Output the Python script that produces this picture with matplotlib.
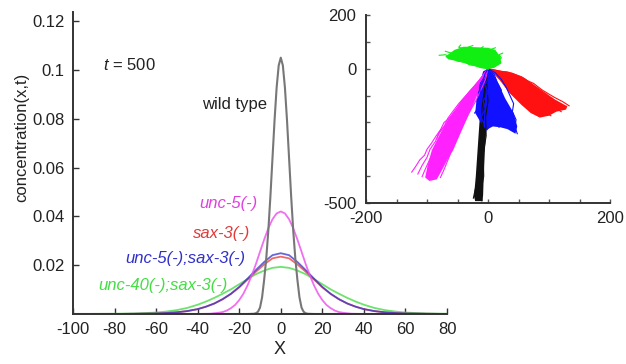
import matplotlib
matplotlib.use("Agg")
import matplotlib.pyplot as plt

plt.rcParams['font.family'] = ['Liberation Sans', 'DejaVu Sans']
plt.rcParams['mathtext.fontset'] = 'custom'
plt.rcParams['mathtext.it'] = 'Liberation Sans:italic'
plt.rcParams['mathtext.rm'] = 'Liberation Sans'

# ---------------- main panel data ----------------
x_ticks = [-100, -80, -60, -40, -20, 0, 20, 40, 60, 80]
y_ticks = [0.02, 0.04, 0.06, 0.08, 0.1, 0.12]
y_ticklabels = ['0.02', '0.04', '0.06', '0.08', '0.1', '0.12']

wt_x = [-100, -16, -13, -12, -11, -10, -9, -8, -7, -6, -5, -4, -3, -2, -1, 0,
        1, 2, 3, 4, 5, 6, 7, 8, 9, 10, 11, 12, 13, 16, 80]
wt_y = [0, 0, 0.0001, 0.0003, 0.0009, 0.0026, 0.0068, 0.0140, 0.0227, 0.0341,
        0.0481, 0.0637, 0.0793, 0.0927, 0.1018, 0.1050, 0.1018, 0.0927, 0.0793,
        0.0637, 0.0481, 0.0341, 0.0227, 0.0140, 0.0068, 0.0026, 0.0009, 0.0003,
        0.0001, 0, 0]

mag_x = [-100, -40, -34, -30, -28, -26, -24, -22, -20, -18, -16, -14, -12, -10,
         -8, -6, -4, -2, 0, 2, 4, 6, 8, 10, 12, 14, 16, 18, 20, 22, 24, 26, 28,
         30, 34, 40, 80]
mag_y = [0, 0, 0.0001, 0.0005, 0.0008, 0.0014, 0.0024, 0.0037, 0.0057, 0.0083,
         0.0117, 0.0158, 0.0204, 0.0255, 0.0305, 0.0351, 0.0388, 0.0412, 0.0420,
         0.0412, 0.0388, 0.0351, 0.0305, 0.0255, 0.0204, 0.0158, 0.0117, 0.0083,
         0.0057, 0.0037, 0.0024, 0.0014, 0.0008, 0.0005, 0.0001, 0, 0]

wide_x = [-100, -80, -70, -60, -55, -50, -45, -40, -36, -32, -28, -24, -20, -16,
          -12, -8, -4, 0, 4, 8, 12, 16, 20, 24, 28, 32, 36, 40, 45, 50, 55, 60,
          70, 80]
blue_y = [0, 0, 0.0001, 0.0002, 0.0004, 0.0007, 0.0012, 0.0020, 0.0030, 0.0043,
          0.0061, 0.0083, 0.0111, 0.0145, 0.0180, 0.0213, 0.0241, 0.0249, 0.0241,
          0.0213, 0.0180, 0.0145, 0.0111, 0.0083, 0.0061, 0.0043, 0.0030, 0.0020,
          0.0012, 0.0007, 0.0004, 0.0002, 0.0001, 0]
red_y = [0, 0, 0.0001, 0.0002, 0.0004, 0.0007, 0.0012, 0.0020, 0.0030, 0.0043,
         0.0060, 0.0082, 0.0109, 0.0141, 0.0173, 0.0203, 0.0228, 0.0235, 0.0228,
         0.0203, 0.0173, 0.0141, 0.0109, 0.0082, 0.0060, 0.0043, 0.0030, 0.0020,
         0.0012, 0.0007, 0.0004, 0.0002, 0.0001, 0]
green_y = [0, 0.0001, 0.0002, 0.0006, 0.0010, 0.0016, 0.0025, 0.0038, 0.0051,
           0.0066, 0.0083, 0.0101, 0.0122, 0.0143, 0.0163, 0.0178, 0.0189, 0.0193,
           0.0189, 0.0178, 0.0163, 0.0143, 0.0122, 0.0101, 0.0083, 0.0066, 0.0051,
           0.0038, 0.0025, 0.0016, 0.0010, 0.0006, 0.0002, 0.0001]

labels = ['wild type', 'unc-5(-)', 'sax-3(-)', 'unc-5(-);sax-3(-)', 'unc-40(-);sax-3(-)']

# ---------------- inset (trajectories) data ----------------
inset_xticks = [-200, -150, -100, -50, 0, 50, 100, 150, 200]
inset_xticklabels = ['-200', '', '', '', '0', '', '', '', '200']
inset_yticks = [-500, -400, -300, -200, -100, 0, 100, 200]
inset_yticklabels = ['-500', '', '', '', '', '0', '', '200']

black_core = [(-3, 0), (0, -60), (0, -120), (-2, -200), (-5, -300), (-7, -400),
              (-8, -470), (-9, -493), (-21, -493), (-23, -475), (-20, -400),
              (-17, -300), (-14, -200), (-11, -120), (-7, -50)]
black_lines = [
    [(0, 0), (-2, -60), (0, -120), (-4, -180), (-3, -250), (-8, -320), (-7, -400), (-12, -460), (-10, -492)],
    [(0, 0), (-4, -60), (-6, -120), (-8, -200), (-12, -280), (-14, -350), (-16, -420), (-20, -490)],
    [(0, 0), (-6, -80), (-10, -150), (-9, -230), (-15, -300), (-13, -380), (-21, -450), (-24, -482)],
]

mag_core = [(-3, -10), (-15, -42), (-30, -80), (-43, -116), (-62, -179), (-78, -240),
            (-92, -303), (-99, -360), (-103, -405), (-96, -418), (-84, -412),
            (-76, -380), (-68, -345), (-57, -303), (-45, -240), (-33, -179),
            (-21, -116), (-12, -70), (-6, -35)]
mag_lines = [
    [(0, 0), (-8, -25), (-15, -50), (-24, -78), (-35, -110), (-44, -135), (-55, -160), (-62, -182), (-72, -200),
     (-78, -228), (-85, -250), (-92, -275), (-100, -300), (-104, -322), (-112, -340), (-118, -362), (-125, -385)],
    [(0, 0), (-10, -30), (-20, -60), (-30, -88), (-42, -120), (-50, -148), (-62, -180), (-70, -210), (-80, -240),
     (-86, -270), (-95, -300), (-100, -330), (-108, -360), (-112, -378), (-115, -392)],
    [(0, 0), (-12, -36), (-24, -70), (-36, -100), (-48, -130), (-58, -160), (-66, -185), (-72, -215),
     (-80, -235), (-84, -260)],
    [(0, 0), (-6, -35), (-14, -70), (-22, -105), (-30, -140), (-38, -175), (-48, -210), (-56, -250),
     (-66, -290), (-74, -330), (-82, -365), (-90, -395), (-98, -410)],
    [(0, 0), (-12, -45), (-25, -85), (-40, -130), (-52, -170), (-65, -210), (-75, -255), (-88, -300),
     (-96, -340), (-104, -380), (-108, -402)],
    [(0, 0), (-4, -40), (-12, -80), (-20, -120), (-30, -160), (-40, -200), (-50, -245), (-58, -290),
     (-64, -330), (-72, -375), (-78, -405)],
]

red_core = [(0, 0), (15, -5), (40, -15), (60, -35), (85, -75), (110, -115), (130, -140),
            (128, -152), (112, -160), (100, -175), (85, -182), (70, -165), (55, -135),
            (35, -90), (20, -45), (5, -8)]
red_lines = [
    [(0, 0), (10, -4), (22, -10), (32, -12), (45, -22), (55, -30), (65, -45), (75, -55), (88, -78), (98, -92),
     (110, -108), (122, -122), (133, -138)],
    [(0, 0), (6, -12), (15, -25), (22, -42), (30, -55), (38, -75), (46, -92), (52, -110), (60, -125), (68, -145),
     (76, -158), (84, -178)],
    [(0, 0), (12, -10), (25, -22), (35, -38), (48, -50), (58, -68), (70, -85), (80, -100), (92, -118), (100, -135),
     (112, -148), (120, -160)],
    [(0, 0), (8, -8), (20, -18), (30, -30), (42, -45), (52, -62), (62, -80), (75, -92), (85, -112), (95, -128),
     (108, -142), (125, -150)],
    [(0, 0), (10, -15), (18, -32), (28, -48), (38, -62), (45, -82), (55, -98), (65, -118), (72, -135), (85, -148),
     (95, -165), (103, -175)],
]

blue_core = [(0, 0), (-8, -10), (-14, -60), (-19, -120), (-21, -165), (-12, -200), (-3, -228),
             (8, -215), (20, -218), (32, -225), (45, -242), (48, -215), (42, -165),
             (28, -110), (18, -60), (8, -15)]
blue_lines = [
    [(0, 0), (-5, -20), (-8, -45), (-14, -70), (-12, -95), (-18, -120), (-15, -145), (-22, -165)],
    [(0, 0), (5, -25), (2, -55), (8, -85), (4, -115), (10, -150), (2, -180), (6, -205), (-2, -228)],
    [(0, 0), (10, -20), (15, -50), (22, -80), (18, -110), (28, -140), (24, -170), (30, -200), (36, -225)],
    [(0, 0), (12, -15), (22, -40), (30, -70), (36, -100), (42, -130), (40, -160), (46, -190), (44, -215),
     (48, -242)],
    [(0, 0), (2, -30), (-5, -60), (0, -90), (-8, -120), (-4, -150), (-12, -180), (-6, -205)],
    [(0, 0), (8, -30), (14, -60), (10, -95), (18, -125), (14, -160), (22, -190), (18, -218)],
]

green_core = [(-70, 45), (-55, 70), (-40, 82), (-20, 80), (0, 78), (12, 70), (20, 45),
              (22, 20), (10, 3), (0, 0), (-12, 2), (-30, 15), (-50, 28), (-65, 35)]
green_lines = [
    [(0, 0), (-6, 8), (-12, 6), (-20, 15), (-28, 20), (-35, 30), (-45, 35), (-52, 42), (-62, 45), (-70, 52),
     (-80, 50)],
    [(0, 0), (-3, 12), (-10, 22), (-8, 35), (-18, 48), (-25, 55), (-35, 62), (-40, 75), (-48, 80), (-45, 88)],
    [(0, 0), (4, 10), (2, 22), (8, 35), (4, 48), (10, 60), (5, 72), (12, 78)],
    [(0, 0), (8, 6), (14, 15), (20, 22), (16, 32), (22, 40), (18, 52), (24, 58)],
    [(0, 0), (-10, 4), (-18, 12), (-30, 14), (-38, 25), (-50, 28), (-58, 38), (-66, 46), (-60, 58), (-70, 65)],
    [(0, 0), (-5, 15), (-15, 28), (-22, 42), (-30, 52), (-28, 68), (-36, 78), (-25, 86)],
    [(0, 0), (-8, 18), (-2, 30), (-12, 45), (-5, 60), (-15, 70), (-8, 82)],
]

# ---------------- figure ----------------
fig = plt.figure(figsize=(6.26, 3.64), dpi=100)
ax = fig.add_axes([73 / 626, 50 / 364, 374 / 626, 302 / 364])

ax.plot(wide_x, green_y, color='#55dd55', lw=1.3, alpha=0.85)
ax.plot(wide_x, red_y, color='#ee4444', lw=1.3, alpha=0.8)
ax.plot(wide_x, blue_y, color='#3333cc', lw=1.3, alpha=0.75)
ax.plot(mag_x, mag_y, color='#ee55ee', lw=1.3, alpha=0.85)
ax.plot(wt_x, wt_y, color='#777777', lw=1.5)

ax.set_xlim(-100, 80)
ax.set_ylim(0, 0.1237)
ax.set_xticks(x_ticks)
ax.set_xticklabels([str(v) for v in x_ticks])
ax.set_yticks(y_ticks)
ax.set_yticklabels(y_ticklabels)
for s in ['top', 'right']:
    ax.spines[s].set_visible(False)
for s in ['left', 'bottom']:
    ax.spines[s].set_color('#333333')
    ax.spines[s].set_linewidth(1.4)
ax.tick_params(direction='in', length=4, width=1, colors='#333333', labelsize=12, pad=6,
               labelcolor='#222222')

ax.text(-85.5, 0.102, r'$t$ = 500', fontsize=12, va='center', color='#222222')
ax.text(-38, 0.0857, labels[0], fontsize=12, va='center', color='#222222')
ax.text(-39, 0.0451, labels[1], fontsize=12, va='center', style='italic', color='#e040e0')
ax.text(-42.5, 0.0328, labels[2], fontsize=12, va='center', style='italic', color='#e03a3a')
ax.text(-74.6, 0.0229, labels[3], fontsize=12, va='center', style='italic', color='#3030c8')
ax.text(-87.6, 0.0115, labels[4], fontsize=12, va='center', style='italic', color='#44dd44')

fig.text(22 / 626, 1 - 137 / 364, 'concentration(x,t)', rotation=90, fontsize=12,
         ha='center', va='center', color='#222222')
fig.text(280 / 626, 1 - 350 / 364, 'X', fontsize=13, ha='center', va='center', color='#222222')

# inset
ax2 = fig.add_axes([366 / 626, (364 - 203) / 364, 244 / 626, 188 / 364])
ax2.patch.set_alpha(0)


def draw_bundle(core, lines, color, lw=0.8):
    cx = [p[0] for p in core]
    cy = [p[1] for p in core]
    ax2.fill(cx, cy, color=color, lw=0)
    for ln in lines:
        ax2.plot([p[0] for p in ln], [p[1] for p in ln], color=color, lw=lw)


draw_bundle(black_core, black_lines, '#111111')
draw_bundle(mag_core, mag_lines, '#ff22ff')
draw_bundle(red_core, red_lines, '#ff1111')
draw_bundle(blue_core, blue_lines, '#1111ff')
draw_bundle(green_core, green_lines, '#11ee11')

ax2.set_xlim(-200, 200)
ax2.set_ylim(-500, 200)
ax2.set_xticks(inset_xticks)
ax2.set_xticklabels(inset_xticklabels)
ax2.set_yticks(inset_yticks)
ax2.set_yticklabels(inset_yticklabels)
for s in ['top', 'right']:
    ax2.spines[s].set_visible(False)
for s in ['left', 'bottom']:
    ax2.spines[s].set_color('#333333')
    ax2.spines[s].set_linewidth(1.4)
ax2.tick_params(direction='in', length=3, width=1, colors='#555555', labelsize=12,
                labelcolor='#222222')
ax2.tick_params(axis='x', pad=6)
ax2.tick_params(axis='y', pad=7)

fig.savefig('out.png', dpi=100)
